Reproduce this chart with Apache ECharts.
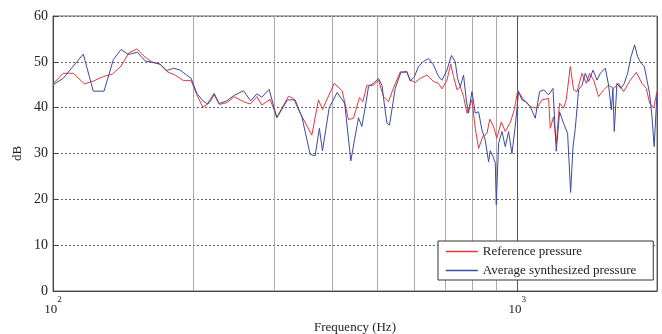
<!DOCTYPE html>
<html>
<head>
<meta charset="utf-8">
<title>Reference vs synthesized pressure</title>
<script src="https://cdn.jsdelivr.net/npm/echarts@6/dist/echarts.min.js"></script>
<style>
  html, body { margin: 0; padding: 0; background: #fff; }
  #chart { width: 662px; height: 334px; }
</style>
</head>
<body>
<div id="chart"></div>
<script>
// values, [frequency (Hz), level (dB)]
const refPressure = [
  [100, 45.2], [105.2, 47.5], [110.6, 47.5], [116.8, 45.2], [122.1, 45.8], [128.4, 46.8],
  [134.2, 47.3], [140.2, 49.1], [145.8, 52], [151.5, 52.8], [157.9, 51], [163.2, 50],
  [170, 49.5], [175.9, 47.9], [183.3, 47.1], [191, 45.9], [198.4, 45.9], [204.1, 42.8],
  [210.3, 40.1], [217.3, 41.1], [222.4, 42.8], [228.3, 40.7], [236.9, 41.1], [245.6, 42.4],
  [257.2, 41.3], [265.9, 40.8], [274.8, 42.4], [281.7, 40.6], [293.6, 41.8], [303.5, 37.9],
  [321.5, 42.5], [329.5, 42], [340.8, 38.8], [361, 34], [373.1, 41.7], [380.6, 39.6],
  [403.3, 45.3], [419.6, 43.7], [432.9, 37.4], [443.8, 37.7], [457.2, 42.2], [465, 41.3],
  [474.3, 44.9], [490.1, 44.9], [502.5, 46], [515.1, 42.4], [528, 41.3], [541.3, 44.3],
  [559.6, 47.8], [578.4, 47.7], [588.2, 46], [602.9, 45.5], [618, 46.4], [638.9, 47.1],
  [660.2, 45.7], [676.7, 45.3], [688.3, 44.1], [705.6, 46], [719, 49.5], [729.1, 46.8],
  [741.5, 43.9], [753.9, 44.6], [766.2, 42.4], [779.3, 38.8], [798.8, 41.7], [812, 35.5],
  [825.5, 31.1], [842.8, 33.7], [860.6, 34.4], [872.6, 37.5], [889.2, 35.9], [903.4, 33.3],
  [923.9, 36.9], [942.4, 34.8], [967.3, 36.9], [986.7, 39.8], [1002.5, 43.8], [1031.8, 41.7],
  [1067, 40.2], [1102.6, 39.9], [1130.3, 41.7], [1168, 42], [1178, 35.5], [1197, 38],
  [1213.6, 32.2], [1233.7, 41], [1258, 39.9], [1275, 41.7], [1301, 49], [1322.5, 43.9],
  [1345, 43.5], [1378.6, 47.5], [1408, 45.3], [1431.6, 47.5], [1460.7, 46], [1497, 42.4],
  [1535, 43.9], [1573, 44.9], [1612, 44.2], [1653, 45.3], [1694.5, 43.5], [1752, 46],
  [1805, 47.7], [1856.6, 45.3], [1896.6, 44.2], [1928, 41], [1967, 39.9], [2000, 43.5]
]

const synPressure = [
  [100, 45], [105.2, 46.4], [116.2, 51.7], [122.1, 43.6], [128.8, 43.6], [134.9, 50.5],
  [140.2, 52.7], [145.3, 51.6], [151.9, 52.1], [157.9, 50.2], [163.2, 49.9], [170, 49.5],
  [175.9, 48.1], [181.7, 48.6], [187.8, 48.2], [194.2, 47.1], [198.4, 46.4], [204.1, 43.1],
  [210.3, 41.5], [215.1, 40.8], [222.4, 43.1], [228, 40.9], [236.9, 41.5], [244.7, 42.6],
  [257.2, 43.7], [266.5, 41.5], [274.8, 43], [281.7, 42.3], [292.1, 44], [303.5, 37.8],
  [319.9, 41.7], [332.3, 41.7], [343.6, 38], [358.1, 29.8], [367, 29.5], [374.8, 35.5],
  [380.6, 30.6], [393.5, 40], [409.3, 43.3], [424.8, 41], [438.1, 28.4], [446.3, 33.1],
  [455, 37.8], [462.7, 35.9], [472.7, 41.3], [478.2, 44.6], [490.1, 45.3], [502.5, 46.4],
  [511.1, 44.9], [516.9, 41], [523.9, 36.6], [530.6, 36.2], [537, 39.5], [545.9, 44.2],
  [561.5, 47.7], [578.4, 47.9], [588.2, 45.8], [600.8, 46.8], [612.8, 49], [628.2, 50.1],
  [644, 50.7], [660.2, 49.3], [676.7, 46.8], [688.3, 46], [705.6, 48.2], [721.5, 51.4],
  [735.3, 50], [743.7, 46.4], [753.9, 44.6], [766.2, 47.1], [776.6, 41.7], [785.5, 38.8],
  [798.8, 43.5], [812, 38.8], [825.5, 39.1], [839.5, 35.1], [853.3, 32.9], [867.4, 28.2],
  [874.8, 30.6], [886.6, 29.3], [896.7, 28], [901.2, 18.8], [911.5, 32.2], [927.1, 34.8],
  [942.4, 31.5], [957.8, 34.8], [974, 30], [990.1, 35.9], [1006.5, 43.5], [1023.6, 41.7],
  [1045.7, 41.3], [1067, 40.2], [1093.4, 37.7], [1117, 43.5], [1139.4, 43.9], [1168, 42.8],
  [1178, 42.4], [1194, 44.2], [1213.6, 30.5], [1233.7, 39.1], [1258, 36.6], [1283.7, 34.4],
  [1303, 21.5], [1318.6, 31.5], [1333.7, 35.5], [1355.7, 43.9], [1378.6, 44.9], [1401.4, 47.5],
  [1424.5, 45.7], [1456.4, 48.2], [1485.6, 46], [1510, 47.5], [1548, 48.6], [1573, 44.9],
  [1594.6, 39.5], [1607.4, 44.2], [1618, 34.8], [1639.6, 45.3], [1672.8, 44.2], [1700.6, 45.3],
  [1728.5, 47.5], [1758, 51.1], [1790, 53.7], [1816.6, 51.1], [1847.5, 49.7], [1878, 49],
  [1903, 46], [1928, 43.1], [1951, 38], [1972, 31.5], [1993, 40.2], [2000, 42.8]
]

// intermediate vertical grid lines of the log axis
const gridFreqs = [200, 300, 400, 500, 600, 700, 800, 900]

const serif = "'Liberation Serif', 'Times New Roman', serif"

const chart = echarts.init(document.getElementById('chart'))

const option = {
  animation: false,
  backgroundColor: '#fff',
  grid: {
    left: 53,
    right: 5,
    top: 16,
    bottom: 43,
    // keep the plot box where it is, names sit close to the edge
    outerBoundsMode: 'none',
    show: true,
    borderColor: '#666',
    borderWidth: 1,
  },
  legend: {
    data: ['Reference pressure', 'Average synthesized pressure'],
    orient: 'vertical',
    left: 438,
    top: 241,
    backgroundColor: '#fff',
    borderColor: '#333',
    borderWidth: 1,
    borderRadius: 0,
    padding: [4, 17, 3, 7],
    itemGap: 6,
    itemWidth: 32,
    itemHeight: 13,
    // hide the symbol that line series put in the legend, keep the line
    itemStyle: { opacity: 0 },
    lineStyle: { width: 1.5 },
    textStyle: { fontFamily: serif, fontSize: 13, color: '#222', lineHeight: 13 },
  },
  xAxis: {
    type: 'log',
    logBase: 10,
    min: 100,
    max: 2000,
    axisLine: { lineStyle: { color: '#444' } },
    axisTick: { show: false },
    splitLine: { show: true, lineStyle: { color: '#555', width: 1 } },
    axisLabel: {
      margin: 4,
      showMaxLabel: false,
      formatter: function (value) {
        const e = Math.log10(value)
        if (Math.abs(e - Math.round(e)) > 1e-6) return ''
        return '{b|10}{s|' + Math.round(e) + '}'
      },
      rich: {
        b: { fontFamily: serif, fontSize: 13, color: '#222', lineHeight: 21, verticalAlign: 'bottom' },
        s: { fontFamily: serif, fontSize: 9, color: '#222', verticalAlign: 'top' },
      },
    },
    name: 'Frequency (Hz)',
    nameLocation: 'middle',
    nameGap: 26,
    nameTextStyle: { fontFamily: serif, fontSize: 13, color: '#222' },
  },
  yAxis: {
    type: 'value',
    min: 0,
    max: 60,
    interval: 10,
    axisLine: { show: true, lineStyle: { color: '#444' } },
    axisTick: { show: true, inside: true, length: 5, lineStyle: { color: '#444' } },
    axisLabel: { margin: 5, fontFamily: serif, fontSize: 14, color: '#222' },
    splitLine: { lineStyle: { color: '#666', type: [2, 2] } },
    name: 'dB',
    nameLocation: 'middle',
    nameGap: 29,
    nameMoveOverlap: false,
    nameTextStyle: { fontFamily: serif, fontSize: 13, color: '#222' },
  },
  series: [
    {
      // only carries the vertical grid lines
      type: 'line',
      data: [],
      silent: true,
      z: 1,
      markLine: {
        silent: true,
        z: 1,
        symbol: 'none',
        label: { show: false },
        lineStyle: { color: '#aaa', type: 'solid', width: 1 },
        data: gridFreqs.map(function (f) { return { xAxis: f } }),
      },
    },
    {
      name: 'Reference pressure',
      type: 'line',
      data: refPressure,
      symbol: 'none',
      showSymbol: false,
      z: 3,
      lineStyle: { color: '#e5383f', width: 1 },
      itemStyle: { color: '#e5383f' },
    },
    {
      name: 'Average synthesized pressure',
      type: 'line',
      data: synPressure,
      symbol: 'none',
      showSymbol: false,
      z: 4,
      lineStyle: { color: '#3c4aa0', width: 1 },
      itemStyle: { color: '#3c4aa0' },
    },
  ],
}

chart.setOption(option)
</script>
</body>
</html>
